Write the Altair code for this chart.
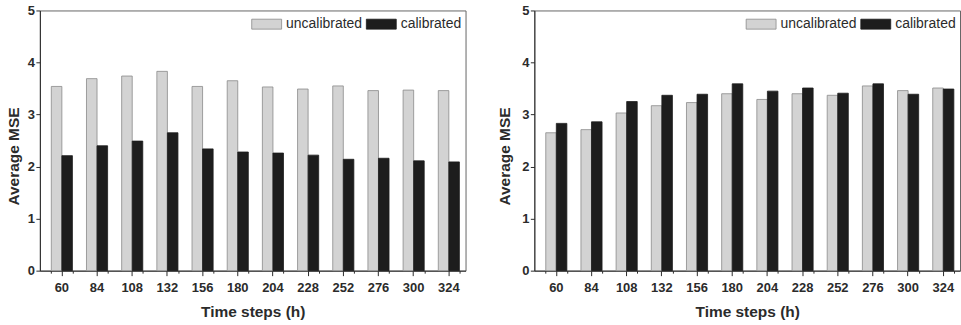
import altair as alt
import pandas as pd

# Forecast lead times (hours)
times = [60, 84, 108, 132, 156, 180, 204, 228, 252, 276, 300, 324]
series = ["uncalibrated", "calibrated"]

# Left panel: average MSE
left_uncal = [3.54, 3.69, 3.74, 3.83, 3.54, 3.65, 3.53, 3.49, 3.55, 3.46, 3.47, 3.46]
left_cal = [2.21, 2.40, 2.49, 2.65, 2.34, 2.28, 2.26, 2.22, 2.14, 2.16, 2.11, 2.09]

# Right panel: average MSE
right_uncal = [2.65, 2.71, 3.03, 3.17, 3.23, 3.40, 3.29, 3.40, 3.37, 3.55, 3.46, 3.51]
right_cal = [2.83, 2.86, 3.25, 3.37, 3.39, 3.59, 3.45, 3.51, 3.41, 3.59, 3.39, 3.49]

FONT = "Liberation Sans"
INK = "#2b2b2b"

LEGEND = dict(
    title=None,
    orient="none",
    legendX=212,
    legendY=-2,
    direction="horizontal",
    symbolType="M-1,-0.333H1V0.333H-1Z",
    symbolSize=900,
    symbolStrokeWidth=0.8,
    symbolOpacity=1,
    labelFont=FONT,
    labelFontSize=14,
    labelColor=INK,
    labelOffset=4,
    columnPadding=1,
    padding=0,
)


def long_table(uncal, cal):
    rows = []
    for t, u, c in zip(times, uncal, cal):
        rows.append({"time": t, "series": "uncalibrated", "mse": u})
        rows.append({"time": t, "series": "calibrated", "mse": c})
    return pd.DataFrame(rows)


def panel(uncal, cal, title_x):
    df = long_table(uncal, cal)
    xscale = alt.Scale(paddingInner=0.4, paddingOuter=0.25, align=0.65)
    base = alt.Chart(df)
    bars = base.mark_bar(strokeWidth=0.8).encode(
        x=alt.X(
            "time:O",
            sort=times,
            scale=xscale,
            axis=alt.Axis(
                title="Time steps (h)",
                labelAngle=0,
                tickSize=5,
                labelPadding=6,
                titlePadding=10,
            ),
        ),
        xOffset=alt.XOffset(
            "series:N", sort=series,
            scale=alt.Scale(domain=series, paddingInner=0, paddingOuter=0),
        ),
        y=alt.Y(
            "mse:Q",
            scale=alt.Scale(domain=[0, 5], nice=False),
            axis=alt.Axis(
                title="Average MSE",
                values=[0, 1, 2, 3, 4, 5],
                tickSize=4,
                labelPadding=1.5,
                grid=False,
                titleX=title_x,
                titleY=146,
                titleAngle=270,
                titleAlign="center",
                titleBaseline="alphabetic",
            ),
        ),
        color=alt.Color(
            "series:N",
            sort=series,
            scale=alt.Scale(domain=series, range=["#d3d3d3", "#1d1d1d"]),
            legend=alt.Legend(**LEGEND),
        ),
        stroke=alt.Stroke(
            "series:N",
            sort=series,
            scale=alt.Scale(domain=series, range=["#8a8a8a", "#1d1d1d"]),
            legend=alt.Legend(**LEGEND),
        ),
    )
    # small interval ticks between the time steps
    minor = base.mark_point(opacity=0).encode(
        x=alt.X(
            "time:O",
            sort=times,
            scale=xscale,
            axis=alt.Axis(
                title=None, labels=False, domain=False,
                tickBand="extent", tickSize=2.5, orient="bottom",
            ),
        ),
        y=alt.Y("mse:Q"),
    )
    return (
        alt.layer(bars, minor)
        .resolve_axis(x="independent")
        .properties(width=427, height=261)
    )


chart = (
    alt.hconcat(
        panel(left_uncal, left_cal, -21.5),
        panel(right_uncal, right_cal, -25),
        spacing=30,
    )
    .resolve_scale(color="independent", stroke="independent")
    .properties(padding={"left": 6, "top": 3, "right": 0, "bottom": 0}, background="white")
    .configure_view(stroke="#666666", strokeWidth=1)
    .configure_axis(
        domainColor=INK,
        tickColor=INK,
        labelFont=FONT,
        labelFontWeight="bold",
        labelFontSize=13,
        labelColor=INK,
        titleFont=FONT,
        titleFontWeight="bold",
        titleFontSize=15.5,
        titleColor=INK,
    )
)

chart.save("out.html", embed_options={"renderer": "svg", "actions": False})
